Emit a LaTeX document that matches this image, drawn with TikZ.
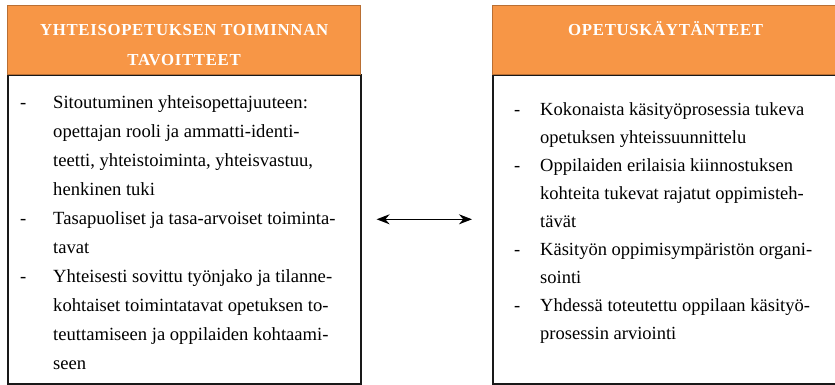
\documentclass[tikz,border=0pt]{standalone}
\usepackage{fontspec}
\setmainfont{Liberation Serif}
\usetikzlibrary{positioning,arrows.meta}

\definecolor{headorange}{HTML}{F79646}
\definecolor{headedge}{HTML}{B96F33}

\newcommand\dsh[1]{\makebox[#1][l]{-}}
\newcommand\ind[1]{\hspace*{#1}}

\begin{document}
\begin{tikzpicture}[x=1pt,y=-1pt]
\tikzset{
  head/.style     = {draw=headedge, line width=1.3pt, fill=headorange, rectangle,
                     minimum width=353pt, minimum height=69pt, inner sep=0pt},
  head text/.style = {text=white, align=center, anchor=north, inner sep=0pt,
                     font=\fontsize{16.8}{30}\selectfont\bfseries\addfontfeatures{LetterSpace=4}},
  body/.style     = {draw=black!90, line width=1.6pt, rectangle, fill=white,
                     minimum width=353pt, minimum height=309pt, inner sep=0pt},
  items/.style    = {align=left, anchor=north west, inner sep=0pt},
  >={Stealth[length=13pt,width=10pt]}
}
\useasboundingbox (0,0) rectangle (835,385);

% left box
\node[body, anchor=north west] (b1) at (7,74) {};
\node[head, anchor=north west] (h1) at (7,5) {};
\node[head text] (t1) at ([yshift=-9pt]h1.north)
  {\strut YHTEISOPETUKSEN TOIMINNAN\\TAVOITTEET};
\node[items, font=\fontsize{18.6}{29}\selectfont] (l1) at (20,88)
  {\strut\dsh{33pt}Sitoutuminen yhteisopettajuuteen:\\
   \ind{33pt}opettajan rooli ja ammatti-identi-\\
   \ind{33pt}teetti, yhteistoiminta, yhteisvastuu,\\
   \ind{33pt}henkinen tuki\\
   \dsh{33pt}Tasapuoliset ja tasa-arvoiset toiminta-\\
   \ind{33pt}tavat\\
   \dsh{33pt}Yhteisesti sovittu työnjako ja tilanne-\\
   \ind{33pt}kohtaiset toimintatavat opetuksen to-\\
   \ind{33pt}teuttamiseen ja oppilaiden kohtaami-\\
   \ind{33pt}seen};

% right box
\node[body, anchor=north west, minimum width=346pt] (b2) at (492,74) {};
\node[head, anchor=north west, minimum width=346pt] (h2) at (492,5) {};
\node[head text] (t2) at ([yshift=-9pt]h2.north)
  {\strut OPETUSKÄYTÄNTEET};
\node[items, font=\fontsize{18.5}{28}\selectfont] (r1) at (514,95.5)
  {\strut\dsh{26pt}Kokonaista käsityöprosessia tukeva\\
   \ind{26pt}opetuksen yhteissuunnittelu\\
   \dsh{26pt}Oppilaiden erilaisia kiinnostuksen\\
   \ind{26pt}kohteita tukevat rajatut oppimisteh-\\
   \ind{26pt}tävät\\
   \dsh{26pt}Käsityön oppimisympäristön organi-\\
   \ind{26pt}sointi\\
   \dsh{26pt}Yhdessä toteutettu oppilaan käsityö-\\
   \ind{26pt}prosessin arviointi};

% connector
\draw[<->, line width=1.4pt, shorten <=15pt, shorten >=20pt]
  ([yshift=10pt]b1.east) -- ([yshift=10pt]b2.west);
\end{tikzpicture}
\end{document}
